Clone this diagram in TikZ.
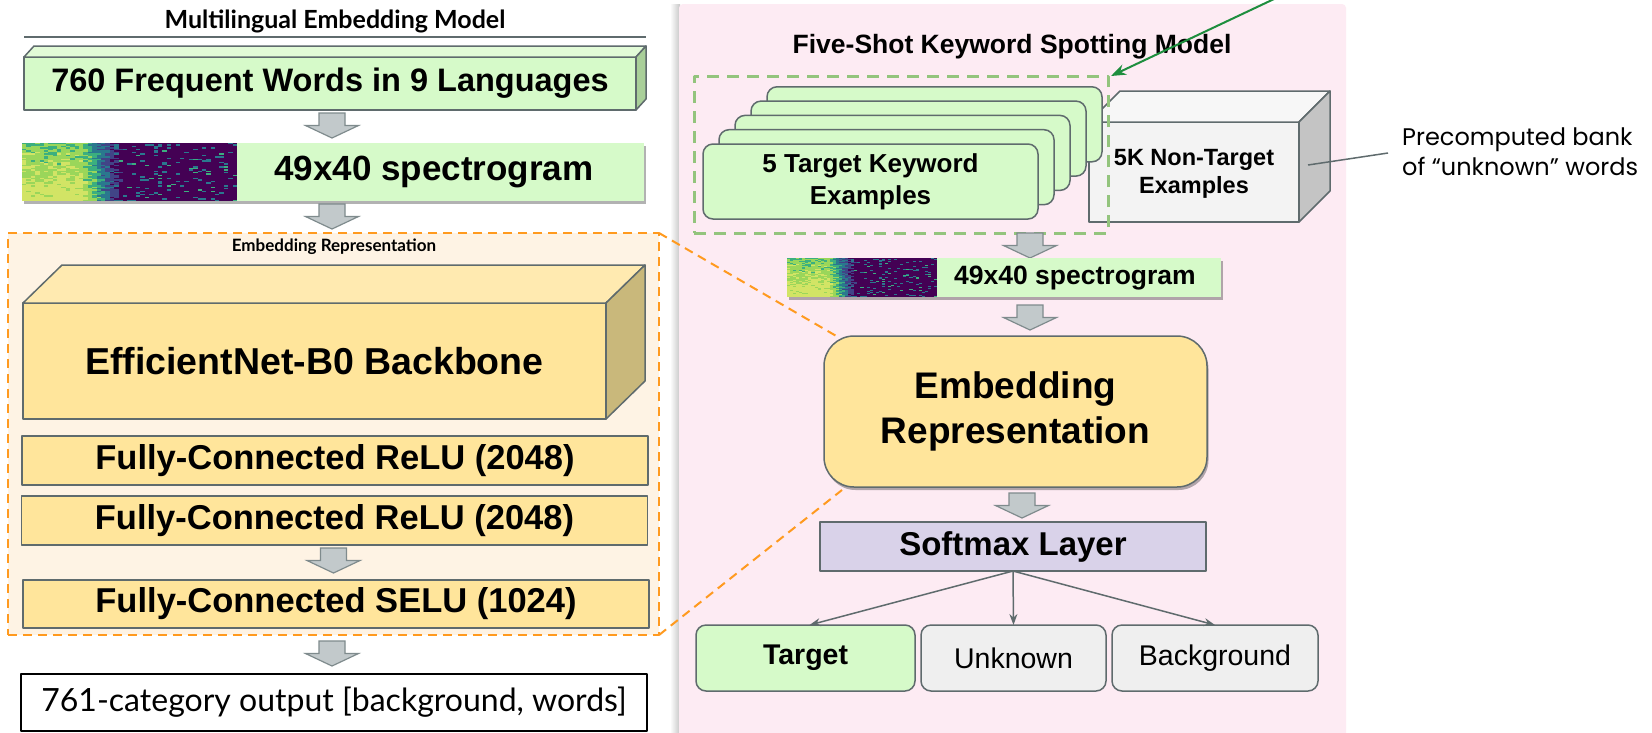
\documentclass[tikz,border=0pt]{standalone}
\usepackage{fontspec}
\setmainfont{Liberation Sans}
\newfontfamily\latofont{Lato}
\newfontfamily\notefont{Poppins}
\usetikzlibrary{shadows,arrows.meta,calc}

\definecolor{edgegray}{HTML}{5F6B6D}
\definecolor{arrowfill}{HTML}{C2C9CB}
\definecolor{arrowedge}{HTML}{7F8B8D}
\definecolor{leafgreen}{HTML}{D6FAC9}
\definecolor{leaftop}{HTML}{E2FBD7}
\definecolor{leafside}{HTML}{A9CF99}
\definecolor{sandfill}{HTML}{FFE59B}
\definecolor{sandtop}{HTML}{FFEAB0}
\definecolor{sandside}{HTML}{C9B87B}
\definecolor{creambg}{HTML}{FEF3E4}
\definecolor{dashorange}{HTML}{FF9A1F}
\definecolor{panelpink}{HTML}{FDEBF3}
\definecolor{lilac}{HTML}{D9D2E9}
\definecolor{paleg}{HTML}{F3F3F3}
\definecolor{paletop}{HTML}{F7F7F7}
\definecolor{greyside}{HTML}{C4C4C4}
\definecolor{chipgray}{HTML}{EFEFEF}
\definecolor{dashgreen}{HTML}{93C47D}
\definecolor{pointer}{HTML}{1E8E3E}
\definecolor{vir0}{HTML}{440154}
\definecolor{vir1}{HTML}{414487}
\definecolor{vir2}{HTML}{2A788E}
\definecolor{vir3}{HTML}{3BAF7F}
\definecolor{vir4}{HTML}{9AD65A}
\definecolor{vir5}{HTML}{D2E465}

\newcommand\fsz[2]{\fontsize{#1}{#2}\selectfont}

% 49x40 spectrogram drawn as a grid of cells: x0, y0 (top left), width, height
\newcommand\spectro[4]{%
  \pgfmathsetseed{2718}%
  \foreach \spi in {0,...,48}{%
    \foreach \spj in {0,...,39}{%
      \pgfmathsetmacro\spw{max(0,min(1,(\spi/48-0.27)/0.2))}%
      \pgfmathsetmacro\spv{(1-\spw)*(0.68+0.28*\spj/39)+\spw*0.02+0.24*(rnd-0.5)}%
      \pgfmathsetmacro\sps{rnd}%
      \pgfmathsetmacro\spv{(\spv<0.2 && \sps<0.11) ? 0.36+1.6*\sps : \spv}%
      \pgfmathtruncatemacro\spc{min(5,max(0,floor(\spv*6)))}%
      \fill[vir\spc] ({#1+\spi*#3/49},{#2+\spj*#4/40}) rectangle ({#1+(\spi+1)*#3/49+0.2},{#2+(\spj+1)*#4/40+0.2});%
    }%
  }%
}

\tikzset{
  face/.style={draw=edgegray, line width=1.5pt, inner sep=0pt, outer sep=0pt},
  softshadow/.style={drop shadow={shadow xshift=1.5pt, shadow yshift=-3pt, opacity=0.3, fill=black}},
  orangedash/.style={draw=dashorange, line width=2pt, dash pattern=on 9pt off 6pt},
  conn/.style={draw=edgegray, line width=1.5pt, -{Stealth[length=11pt,width=8pt]}},
  blockarrow/.pic={\filldraw[fill=arrowfill, draw=arrowedge, line width=1.2pt, line join=miter]
    (-13,0) -- (13,0) -- (13,12.5) -- (26.5,12.5) -- (0,25) -- (-26.5,12.5) -- (-13,12.5) -- cycle;}
}

\begin{document}
\begin{tikzpicture}[x=1pt, y=-1pt, line join=round]
\useasboundingbox (0,0) rectangle (1652,732);
\fill[white] (0,0) rectangle (1652,732);

% ---------------- right panel background ----------------
\fill[left color=white, right color=black!22] (670,4) rectangle (680,732);
\fill[panelpink, rounded corners=4pt] (679,4) rectangle (1346,745);

% ---------------- multilingual embedding model ----------------
\node[font=\latofont\bfseries\fsz{25}{29}] (ltitle) at (335,21) {Multilingual Embedding Model};
\draw[edgegray, line width=1.5pt] (24,37) -- (646,37);

\node[face, fill=leafgreen, minimum width=612pt, minimum height=53pt,
      font=\bfseries\fsz{32.5}{37}] (words) at (330,83.5) {760 Frequent Words in 9 Languages};
\filldraw[face, fill=leaftop] (words.north west) -- ++(10,-11) -- ([shift={(10,-11)}]words.north east) -- (words.north east) -- cycle;
\filldraw[face, fill=leafside] (words.north east) -- ++(10,-11) -- ([shift={(10,-11)}]words.south east) -- (words.south east) -- cycle;

\pic at ($(words.south)+(2,3)$) {blockarrow};

\node[fill=leafgreen, softshadow, inner sep=0pt, outer sep=0pt,
      minimum width=622pt, minimum height=58pt] (lspec) at (333,172) {};
\spectro{22}{143}{215}{58}
\node[font=\bfseries\fsz{35}{40}] (lspectxt) at (434,172) {49x40 spectrogram};

\pic at ($(lspec.south)+(-1,3)$) {blockarrow};

\node[orangedash, fill=creambg, minimum width=651pt, minimum height=402pt,
      inner sep=0pt, outer sep=0pt] (embframe) at (333.5,434) {};
\node[font=\latofont\bfseries\fsz{17}{20}] (embtag) at (334,247) {Embedding Representation};

\node[face, fill=sandfill, minimum width=583pt, minimum height=116pt,
      font=\bfseries\fsz{37.5}{42}] (backbone) at (314.5,361) {EfficientNet-B0 Backbone};
\filldraw[face, fill=sandtop] (backbone.north west) -- ++(39,-38) -- ([shift={(39,-38)}]backbone.north east) -- (backbone.north east) -- cycle;
\filldraw[face, fill=sandside] (backbone.north east) -- ++(39,-38) -- ([shift={(39,-38)}]backbone.south east) -- (backbone.south east) -- cycle;

\node[face, fill=sandfill, minimum width=626pt, minimum height=49pt,
      font=\bfseries\fsz{34.5}{40}] (relu1) at (335,460.5) {Fully-Connected ReLU (2048)};
\node[face, fill=sandfill, minimum width=626pt, minimum height=49pt,
      font=\bfseries\fsz{34.5}{40}] (relu2) at (334.5,520.5) {Fully-Connected ReLU (2048)};
\pic at ($(relu2.south)+(-1,3)$) {blockarrow};
\node[face, fill=sandfill, minimum width=626pt, minimum height=48pt,
      font=\bfseries\fsz{34.5}{40}] (selu) at (336,604) {Fully-Connected SELU (1024)};

\pic at ($(embframe.south)+(-1.5,6)$) {blockarrow};
\node[draw=black, line width=2pt, fill=white, inner sep=0pt, outer sep=0pt,
      minimum width=626pt, minimum height=57pt, font=\latofont\fsz{32}{36}] (output) at (334,702.5)
      {761-category output [background, words]};

% ---------------- five-shot keyword spotting model ----------------
\node[font=\bfseries\fsz{26.5}{30}] (rtitle) at (1012,47) {Five-Shot Keyword Spotting Model};

% bank of non-target examples
\node[face, fill=paleg, minimum width=210pt, minimum height=100pt] (bank) at (1194,172) {};
\filldraw[face, fill=paletop] (bank.north west) -- ++(31,-31) -- ([shift={(31,-31)}]bank.north east) -- (bank.north east) -- cycle;
\filldraw[face, fill=greyside] (bank.north east) -- ++(31,-31) -- ([shift={(31,-31)}]bank.south east) -- (bank.south east) -- cycle;
\node[font=\bfseries\fsz{23.5}{28}, align=center] (banktxt) at (1194,174) {5K Non-Target\\Examples};

% stack of target keyword examples
\foreach \k in {4,3,2,1,0}{
  \node[face, fill=leafgreen, rounded corners=10pt, minimum width=335pt, minimum height=75pt]
    (card\k) at ({870.5+16*\k},{181.5-14.3*\k}) {};
}
\node[font=\bfseries\fsz{26}{32}, align=center] (cardtxt) at (card0.center) {5 Target Keyword\\Examples};

\node[draw=dashgreen, line width=3pt, dash pattern=on 12pt off 8pt, inner sep=0pt, outer sep=0pt,
      minimum width=414pt, minimum height=157pt] (fewbox) at (901,154.5) {};

\coordinate (ptrtail) at (1291,-9);
\draw[pointer, line width=2pt, -{Stealth[length=15pt,width=11pt]}] (ptrtail) -- ([shift={(3,0)}]fewbox.north east);

% annotation
\node[anchor=west, inner sep=0pt, align=left, font=\notefont\fsz{24}{30}] (note) at (1402,152)
  {Precomputed bank\\of “unknown” words};
\draw[edgegray, line width=1.5pt] ($(bank.east)+(9,-7)$) -- ($(note.west)+(-14,1)$);

\pic at (1030,233) {blockarrow};

\node[fill=leafgreen, softshadow, inner sep=0pt, outer sep=0pt,
      minimum width=434pt, minimum height=39pt] (rspec) at (1004,277.5) {};
\spectro{787}{258}{150}{39}
\node[font=\bfseries\fsz{26.5}{30}] (rspectxt) at (1075,278) {49x40 spectrogram};

\pic at (1030,305) {blockarrow};

% zoom lines from the embedding stack
\coordinate (embtl) at (838,337);
\coordinate (embbl) at (842,490);
\draw[orangedash] (embframe.north east) -- (embtl);
\draw[orangedash] (embframe.south east) -- (embbl);

\node[face, fill=sandfill, softshadow, rounded corners=30pt, minimum width=383pt, minimum height=151pt,
      font=\bfseries\fsz{37}{45}, align=center] (emb) at (1015.5,411.5) {Embedding\\Representation};

\pic at (1022,493) {blockarrow};

\node[face, fill=lilac, minimum width=386pt, minimum height=49pt,
      font=\bfseries\fsz{33}{38}] (softmax) at (1013,546.5) {Softmax Layer};

\node[face, fill=leafgreen, rounded corners=10pt, minimum width=219pt, minimum height=66pt,
      font=\bfseries\fsz{28.5}{32}] (target) at (805.5,658) {Target};
\node[face, fill=chipgray, rounded corners=10pt, minimum width=185pt, minimum height=66pt,
      font=\fsz{28.5}{32}] (unknown) at (1013.5,658) {Unknown};
\node[face, fill=chipgray, rounded corners=10pt, minimum width=206pt, minimum height=66pt,
      font=\fsz{28.5}{32}] (backgr) at (1215,658) {Background};

\draw[conn] (softmax.south) -- ([xshift=4pt]target.north);
\draw[conn] (softmax.south) -- (unknown.north);
\draw[conn] (softmax.south) -- (backgr.north);
\end{tikzpicture}
\end{document}
